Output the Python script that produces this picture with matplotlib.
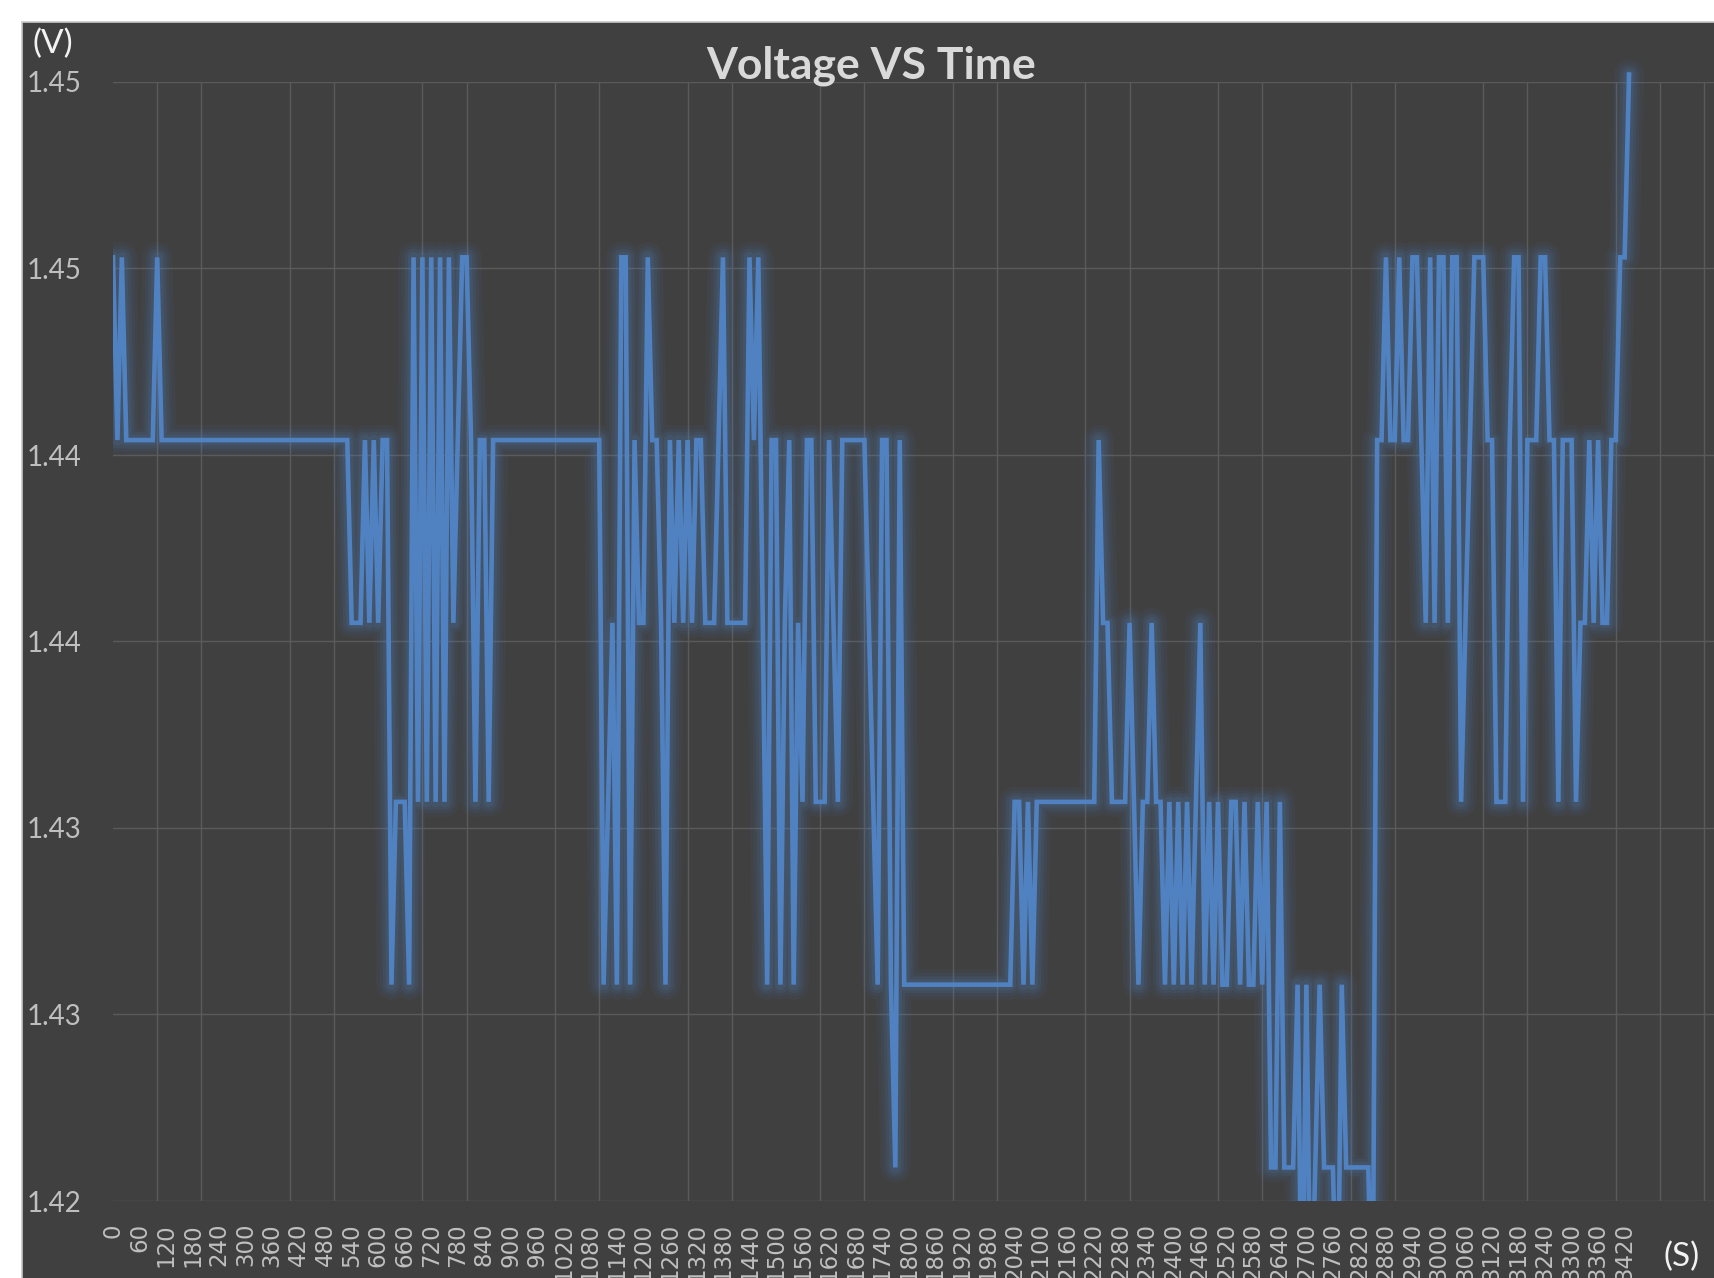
import numpy as np
import matplotlib
matplotlib.use("Agg")
import matplotlib.pyplot as plt
from matplotlib.patches import Rectangle
from matplotlib.ticker import FixedLocator

# ---------------- data ----------------
# one sample every 10 s
step_s = 10
voltage = [
    1.4453, 1.4404, 1.4453, 1.4404, 1.4404, 1.4404, 1.4404, 1.4404, 1.4404, 1.4404,  # 0-9
    1.4453, 1.4404, 1.4404, 1.4404, 1.4404, 1.4404, 1.4404, 1.4404, 1.4404, 1.4404,  # 10-19
    1.4404, 1.4404, 1.4404, 1.4404, 1.4404, 1.4404, 1.4404, 1.4404, 1.4404, 1.4404,  # 20-29
    1.4404, 1.4404, 1.4404, 1.4404, 1.4404, 1.4404, 1.4404, 1.4404, 1.4404, 1.4404,  # 30-39
    1.4404, 1.4404, 1.4404, 1.4404, 1.4404, 1.4404, 1.4404, 1.4404, 1.4404, 1.4404,  # 40-49
    1.4404, 1.4404, 1.4404, 1.4404, 1.4355, 1.4355, 1.4355, 1.4404, 1.4355, 1.4404,  # 50-59
    1.4355, 1.4404, 1.4404, 1.4258, 1.4307, 1.4307, 1.4307, 1.4258, 1.4453, 1.4307,  # 60-69
    1.4453, 1.4307, 1.4453, 1.4307, 1.4453, 1.4307, 1.4453, 1.4355, 1.4404, 1.4453,  # 70-79
    1.4453, 1.4404, 1.4307, 1.4404, 1.4404, 1.4307, 1.4404, 1.4404, 1.4404, 1.4404,  # 80-89
    1.4404, 1.4404, 1.4404, 1.4404, 1.4404, 1.4404, 1.4404, 1.4404, 1.4404, 1.4404,  # 90-99
    1.4404, 1.4404, 1.4404, 1.4404, 1.4404, 1.4404, 1.4404, 1.4404, 1.4404, 1.4404,  # 100-109
    1.4404, 1.4258, 1.4307, 1.4355, 1.4258, 1.4453, 1.4453, 1.4258, 1.4404, 1.4355,  # 110-119
    1.4355, 1.4453, 1.4404, 1.4404, 1.4355, 1.4258, 1.4404, 1.4355, 1.4404, 1.4355,  # 120-129
    1.4404, 1.4355, 1.4404, 1.4404, 1.4355, 1.4355, 1.4355, 1.4404, 1.4453, 1.4355,  # 130-139
    1.4355, 1.4355, 1.4355, 1.4355, 1.4453, 1.4404, 1.4453, 1.4355, 1.4258, 1.4404,  # 140-149
    1.4404, 1.4258, 1.4355, 1.4404, 1.4258, 1.4355, 1.4307, 1.4404, 1.4404, 1.4307,  # 150-159
    1.4307, 1.4307, 1.4404, 1.4355, 1.4307, 1.4404, 1.4404, 1.4404, 1.4404, 1.4404,  # 160-169
    1.4404, 1.4355, 1.4307, 1.4258, 1.4404, 1.4404, 1.4258, 1.4209, 1.4404, 1.4258,  # 170-179
    1.4258, 1.4258, 1.4258, 1.4258, 1.4258, 1.4258, 1.4258, 1.4258, 1.4258, 1.4258,  # 180-189
    1.4258, 1.4258, 1.4258, 1.4258, 1.4258, 1.4258, 1.4258, 1.4258, 1.4258, 1.4258,  # 190-199
    1.4258, 1.4258, 1.4258, 1.4258, 1.4307, 1.4307, 1.4258, 1.4307, 1.4258, 1.4307,  # 200-209
    1.4307, 1.4307, 1.4307, 1.4307, 1.4307, 1.4307, 1.4307, 1.4307, 1.4307, 1.4307,  # 210-219
    1.4307, 1.4307, 1.4307, 1.4404, 1.4355, 1.4355, 1.4307, 1.4307, 1.4307, 1.4307,  # 220-229
    1.4355, 1.4307, 1.4258, 1.4307, 1.4307, 1.4355, 1.4307, 1.4307, 1.4258, 1.4307,  # 230-239
    1.4258, 1.4307, 1.4258, 1.4307, 1.4258, 1.4307, 1.4355, 1.4258, 1.4307, 1.4258,  # 240-249
    1.4307, 1.4258, 1.4258, 1.4307, 1.4307, 1.4258, 1.4307, 1.4258, 1.4258, 1.4307,  # 250-259
    1.4258, 1.4307, 1.4209, 1.4209, 1.4307, 1.4209, 1.4209, 1.4209, 1.4258, 1.4160,  # 260-269
    1.4258, 1.4160, 1.4209, 1.4258, 1.4209, 1.4209, 1.4209, 1.4160, 1.4258, 1.4209,  # 270-279
    1.4209, 1.4209, 1.4209, 1.4209, 1.4209, 1.4160, 1.4404, 1.4404, 1.4453, 1.4404,  # 280-289
    1.4404, 1.4453, 1.4404, 1.4404, 1.4453, 1.4453, 1.4404, 1.4355, 1.4453, 1.4355,  # 290-299
    1.4453, 1.4453, 1.4355, 1.4453, 1.4453, 1.4307, 1.4355, 1.4404, 1.4453, 1.4453,  # 300-309
    1.4453, 1.4404, 1.4404, 1.4307, 1.4307, 1.4307, 1.4404, 1.4453, 1.4453, 1.4307,  # 310-319
    1.4404, 1.4404, 1.4404, 1.4453, 1.4453, 1.4404, 1.4404, 1.4307, 1.4404, 1.4404,  # 320-329
    1.4404, 1.4307, 1.4355, 1.4355, 1.4404, 1.4355, 1.4404, 1.4355, 1.4355, 1.4404,  # 330-339
    1.4404, 1.4453, 1.4453, 1.4502,                                                  # 340-343
]
y_ticks = [1.42, 1.425, 1.43, 1.435, 1.44, 1.445, 1.45]
y_tick_labels = ["1.42", "1.43", "1.43", "1.44", "1.44", "1.45", "1.45"]
x_label_every = 6      # a label every 60 s
x_grid_every = 10      # a gridline every 100 s
last_label_s = 3420

title = "Voltage VS Time"
y_unit = "(V)"
x_unit = "(S)"

# ---------------- style ----------------
W, H = 1715, 1278
BG = "#404040"
GRID = "#5A5A5A"
LINE = "#5082C2"
TXT = "#BFBFBF"
TITLE_C = "#D9D9D9"
UNIT_C = "#F2F2F2"
FONT = ["Lato", "DejaVu Sans"]

fig = plt.figure(figsize=(W / 100, H / 100), dpi=100, facecolor="white")
bg = Rectangle((22 / W, -0.01), 1.02, 1 - 22 / H + 0.01,
               transform=fig.transFigure, facecolor=BG,
               edgecolor="#C8C8C8", linewidth=1.2, zorder=-10)
fig.patches.append(bg)

ax_left, ax_top, ax_bot = 113, 82, 1201
ax = fig.add_axes([ax_left / W, 1 - ax_bot / H, (W - ax_left) / W, (ax_bot - ax_top) / H])
ax.set_zorder(1)
ax.patch.set_alpha(0)

n = len(voltage)
x = np.arange(n)
px_per_pt = 4.42
ax.set_xlim(0, (W - ax_left) / px_per_pt)
ax.set_ylim(1.42, 1.45)

# glow + line, clipped at the bottom of the plot only
clip = Rectangle((0, 0), 1, 1.05, transform=ax.transAxes, facecolor="none", edgecolor="none")
ax.add_patch(clip)
for lw_px, a in [(30, 0.06), (23, 0.08), (17, 0.10), (11, 0.13)]:
    l, = ax.plot(x, voltage, color=LINE, lw=lw_px * 0.72, alpha=a,
                 solid_joinstyle="round", solid_capstyle="round", zorder=2)
    l.set_clip_path(clip)
main, = ax.plot(x, voltage, color=LINE, lw=4.6 * 0.72, solid_joinstyle="miter",
                zorder=3)
main.set_clip_path(clip)

# grid
ax.yaxis.set_major_locator(FixedLocator(y_ticks))
ax.set_yticklabels(y_tick_labels)
ax.xaxis.set_minor_locator(FixedLocator(np.arange(0, 370, x_grid_every)))
label_pos = np.arange(0, last_label_s // step_s + 1, x_label_every)
ax.xaxis.set_major_locator(FixedLocator(label_pos))
ax.set_xticklabels([str(int(p * step_s)) for p in label_pos])
ax.grid(True, which="minor", axis="x", color=GRID, lw=1.4 * 0.72, zorder=1)
ax.grid(True, which="major", axis="y", color=GRID, lw=1.4 * 0.72, zorder=1)
ax.grid(False, which="major", axis="x")
ax.set_axisbelow(True)
for s in ax.spines.values():
    s.set_visible(False)

ax.tick_params(axis="both", which="both", length=0)
ax.tick_params(axis="y", pad=(ax_left - 27) * 0.72)
for t in ax.get_yticklabels():
    t.set_ha("left")
    t.set_fontfamily(FONT)
    t.set_fontsize(20)
    t.set_color(TXT)
ax.tick_params(axis="x", pad=22 * 0.72)
for t in ax.get_xticklabels():
    t.set_rotation(90)
    t.set_va("top")
    t.set_ha("center")
    t.set_fontfamily(["DejaVu Sans"])
    t.set_fontsize(16.5)
    t.set_color(TXT)

fig.text(871 / W, 1 - 79 / H, title, ha="center", va="baseline",
         fontsize=32, fontweight="bold", color=TITLE_C, family=FONT)
fig.text(32 / W, 1 - 29 / H, y_unit, ha="left", va="top",
         fontsize=24, color=UNIT_C, family=FONT)
fig.text(1664 / W, 1 - 1257 / H, x_unit, ha="left", va="center",
         fontsize=24, color=UNIT_C, family=FONT)

fig.savefig("out.png", dpi=100, facecolor="white")
